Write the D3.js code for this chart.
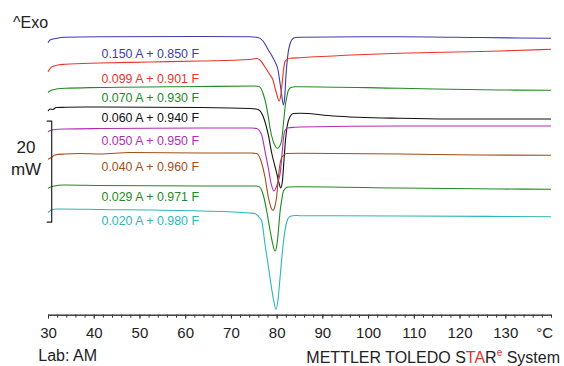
<!DOCTYPE html>
<html><head><meta charset="utf-8">
<script src="https://cdn.jsdelivr.net/npm/d3@7"></script>
<style>
body{margin:0;background:#fff;}
svg{display:block;font-family:"Liberation Sans",Arial,Helvetica,sans-serif;}
</style></head>
<body><svg id="chart" width="564" height="366"></svg>
<script>
// Temperature (°C) and heat flow (mW, Exo up)
const labels = ["0.150 A + 0.850 F","0.099 A + 0.901 F","0.070 A + 0.930 F","0.060 A + 0.940 F",
                "0.050 A + 0.950 F","0.040 A + 0.960 F","0.029 A + 0.971 F","0.020 A + 0.980 F"];
const colors = ["#3c3cae","#e8352b","#238a23","#111111","#b22db2","#a24f18","#1f8a1f","#2fb6b6"];

const s150 = [[30,53.72],[30.44,54.26],[31.75,54.55],[33.72,54.79],[41.37,54.89],[63.24,54.95],[74.17,54.89],[75.92,54.75],[77.02,54.06],[78.18,52.28],[78.99,51.09],[79.64,49.96],[80.30,48.32],[80.74,45.74],[81.17,42.97],[81.46,41.39],[81.72,42.38],[82.05,47.33],[82.55,51.94],[82.92,53.47],[83.29,54.26],[84.02,54.75],[85.11,54.81],[106.98,54.91],[124.47,54.75],[140,54.59]];
const s099 = [[30,47.98],[30.87,48.97],[32.19,49.31],[33.72,49.45],[41.37,49.70],[52.31,49.90],[63.24,50.10],[74.17,50.40],[75.64,50.59],[76.36,50.30],[77.45,48.91],[78.55,47.33],[79.20,46.34],[79.64,44.75],[80.08,43.37],[80.52,42.18],[80.85,42.97],[81.24,46.00],[81.50,48.32],[81.83,49.96],[82.27,50.40],[82.92,50.63],[85.11,50.75],[106.98,51.62],[128.85,52.08],[140,52.42]];
const s070 = [[30,43.90],[30.87,44.36],[33.72,44.69],[41.37,44.85],[63.24,45.05],[75.27,45.15],[76.15,45.05],[77.08,43.56],[77.67,41.58],[78.18,39.07],[78.55,36.83],[79.27,34.12],[79.75,33.17],[80.19,32.81],[80.63,33.17],[81.11,34.46],[81.39,36.83],[81.68,39.41],[81.94,41.58],[82.20,42.87],[82.55,44.26],[83.14,44.85],[84.02,45.01],[85.11,45.01],[106.98,44.69],[128.85,44.36],[140,44.30]];
const s060 = [[30,40.20],[30.44,40.59],[31.09,40.50],[31.75,40.89],[33.72,40.93],[41.37,40.99],[63.24,40.89],[74.17,40.69],[75.92,40.50],[77.08,39.07],[78.18,35.45],[78.92,31.88],[80.01,27.92],[80.52,25.94],[80.89,24.95],[81.24,26.14],[81.61,30.50],[81.94,34.46],[82.27,37.03],[82.92,39.07],[83.64,39.70],[85.11,39.74],[92.33,39.21],[106.98,38.75],[117.91,38.61],[140,38.61]];
const s050 = [[30,36.10],[30.87,36.44],[33.72,36.63],[41.37,36.73],[63.24,36.83],[74.61,36.83],[75.64,36.73],[76.73,35.45],[77.45,32.28],[78.18,28.91],[78.77,25.94],[79.42,24.36],[80.01,25.35],[80.41,26.53],[80.74,27.72],[81.17,31.49],[81.50,34.85],[81.83,36.34],[82.38,36.83],[84.02,36.97],[85.11,37.03],[106.98,37.23],[140,37.23]];
const s040 = [[30,30.63],[30.87,31.09],[31.53,31.49],[33.72,31.68],[37.00,31.78],[41.37,31.68],[47.93,31.98],[63.24,31.88],[74.17,31.88],[75.64,31.78],[76.73,29.90],[77.45,27.13],[78.18,23.17],[78.77,21.09],[79.20,20.50],[79.64,21.39],[79.97,22.97],[80.36,26.93],[80.74,29.70],[81.17,31.09],[82.20,31.78],[85.11,31.82],[106.98,31.68],[124.47,31.49],[140,31.43]];
const s029 = [[30,24.89],[30.87,25.25],[33.72,25.54],[41.37,25.45],[63.24,25.35],[75.27,25.35],[75.99,25.29],[77.02,23.76],[77.83,20.40],[78.55,16.63],[79.10,14.06],[79.64,12.48],[80.08,13.86],[80.36,16.24],[80.74,20.20],[81.11,22.57],[81.50,24.36],[82.48,25.15],[85.11,25.21],[106.98,24.95],[128.85,24.75],[140,24.69]];
const s020 = [[30,20.06],[30.66,20.59],[32.19,20.79],[41.37,20.69],[63.24,20.40],[74.17,20.00],[75.27,19.90],[75.92,19.41],[76.73,18.42],[77.45,13.86],[78.18,9.50],[78.92,4.95],[79.42,2.38],[79.86,0.89],[80.30,2.77],[80.74,7.13],[81.46,14.06],[82.20,18.22],[82.92,19.31],[84.02,19.51],[85.11,19.47],[106.98,19.41],[140,19.27]];
const series = [s150, s099, s070, s060, s050, s040, s029, s020];

const majorTicks = [30,40,50,60,70,80,90,100,110,120,130];
const minorTicks = d3.range(30, 141, 2);
const scaleBar = [18.2, 38.2]; // 20 mW

const svg = d3.select("#chart");
const x = d3.scaleLinear().domain([30,140]).range([48,551]);
const y = d3.scaleLinear().domain([0,60]).range([314,11]);
const axisY = 314.7;

// curves
const line = d3.line().x(d=>x(d[0])).y(d=>y(d[1])).curve(d3.curveMonotoneX);
series.forEach((s,i)=>{
  svg.append("path").attr("d", line(s)).attr("fill","none")
     .attr("stroke", colors[i]).attr("stroke-width",1.1).attr("stroke-linejoin","round");
});

// labels
const labelY = [58.3, 82.7, 102.3, 122.3, 145, 170.7, 200.7, 225];
labels.forEach((t,i)=>{
  svg.append("text").attr("x",101.5).attr("y",labelY[i]).attr("font-size",12.4)
    .attr("fill",colors[i]).text(t);
});

// x axis
const gMinor = svg.append("g").attr("transform",`translate(0,${axisY})`)
  .call(d3.axisBottom(x).tickValues(minorTicks).tickSize(3).tickSizeOuter(0).tickFormat(""));
const gMajor = svg.append("g").attr("transform",`translate(0,${axisY})`)
  .call(d3.axisBottom(x).tickValues(majorTicks).tickSize(4).tickSizeOuter(0));
[gMinor,gMajor].forEach(g=>{
  g.select(".domain").attr("stroke","#333").attr("stroke-width",1);
  g.selectAll(".tick line").attr("stroke","#333");
});
gMajor.selectAll(".tick text").attr("y",23.6).attr("dy",null)
  .attr("font-size",15).attr("fill","#222").attr("font-family","Liberation Sans, Arial, sans-serif");
svg.append("text").attr("x",553).attr("y",axisY+23.6).attr("text-anchor","end")
  .attr("font-size",15).attr("fill","#222").text("°C");

// scale bar
const sb = d3.path();
sb.moveTo(46.7, y(scaleBar[1])); sb.lineTo(51.7, y(scaleBar[1]));
sb.lineTo(51.7, y(scaleBar[0])); sb.lineTo(46.7, y(scaleBar[0]));
svg.append("path").attr("d", sb.toString()).attr("fill","none").attr("stroke","#222").attr("stroke-width",1.2);
svg.append("text").attr("x",26).attr("y",153.3).attr("text-anchor","middle").attr("font-size",17).attr("fill","#222").text("20");
svg.append("text").attr("x",26).attr("y",175).attr("text-anchor","middle").attr("font-size",17).attr("fill","#222").text("mW");

svg.append("text").attr("x",13).attr("y",28.3).attr("font-size",16).attr("fill","#222").text("^Exo");
svg.append("text").attr("x",38.3).attr("y",361).attr("font-size",16).attr("fill","#222").text("Lab: AM");

const brand = svg.append("text").attr("x",560).attr("y",363.3).attr("text-anchor","end")
  .attr("font-size",16).attr("fill","#222");
brand.append("tspan").text("METTLER TOLEDO S");
brand.append("tspan").attr("fill","#e8352b").text("TA");
brand.append("tspan").text("R");
brand.append("tspan").attr("fill","#e8352b").attr("font-size",10).attr("dy",-7).text("e");
brand.append("tspan").attr("dy",7).text(" System");
</script></body></html>
